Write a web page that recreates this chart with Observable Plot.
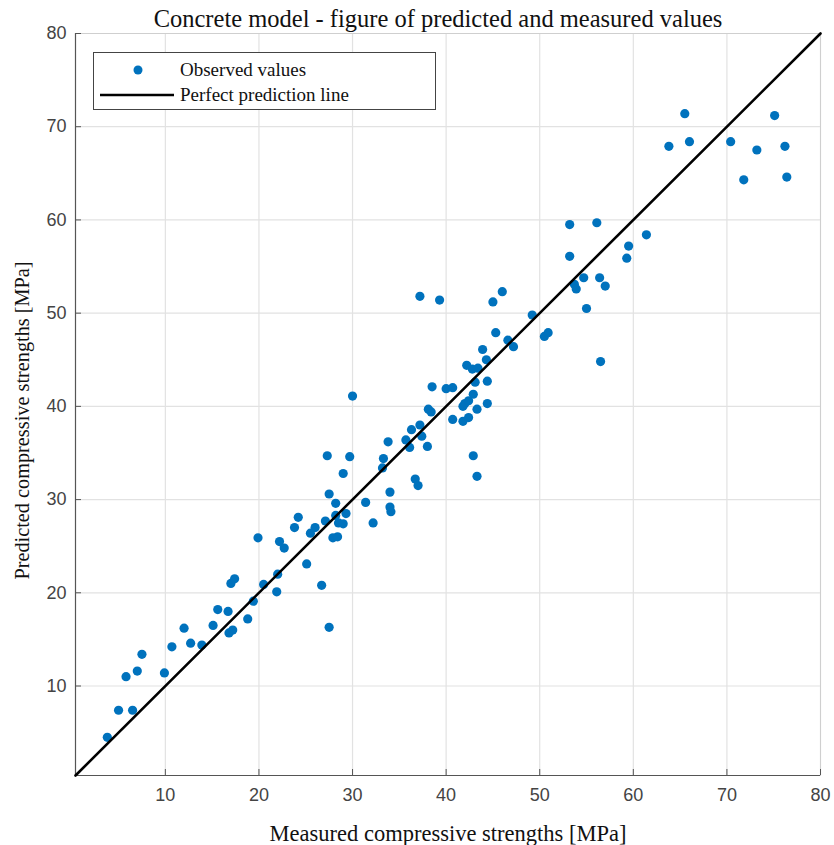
<!DOCTYPE html>
<html><head><meta charset="utf-8">
<script src="https://cdn.jsdelivr.net/npm/d3@7"></script>
<script src="https://cdn.jsdelivr.net/npm/@observablehq/plot@0.6"></script>
<style>
body{margin:0;background:#fff;}
#wrap{position:relative;width:834px;height:845px;}
#legend{position:absolute;left:93px;top:52px;width:341px;height:56px;border:1.3px solid #444;background:#fff;font-family:"Liberation Serif",serif;font-size:19px;color:#111;}
#legend .row{position:absolute;left:0;height:24px;line-height:24px;}
#legend .lab{position:absolute;left:86px;white-space:nowrap;}
</style></head><body><div id="wrap"><div id="legend">
<div class="row" style="top:5px"><svg width="80" height="24" style="position:absolute;left:0"><circle cx="44" cy="12" r="4.5" fill="#0072BD"/></svg><span class="lab">Observed values</span></div>
<div class="row" style="top:30px"><svg width="84" height="24" style="position:absolute;left:0"><line x1="6" x2="80" y1="12" y2="12" stroke="#000" stroke-width="2.6"/></svg><span class="lab">Perfect prediction line</span></div>
</div></div>
<script>
const measured = [3.8,5.0,6.5,5.8,7.0,7.5,9.9,10.7,12.0,12.7,13.9,15.1,15.6,16.7,16.8,17.2,17.0,17.4,18.8,19.4,19.9,20.5,21.9,22.0,22.2,22.7,23.8,24.2,25.1,25.5,26.0,26.7,27.5,27.1,27.3,27.5,28.2,27.9,28.4,28.2,28.5,29.0,29.3,29.0,29.7,30.0,31.4,32.2,33.2,33.3,33.8,34.0,34.0,34.1,35.7,36.1,36.3,36.7,37.0,37.2,37.4,38.0,38.1,38.4,38.5,37.2,39.3,40.0,40.7,40.7,41.8,42.4,41.8,42.0,42.4,42.9,43.1,43.3,44.4,44.4,42.9,43.3,42.2,42.8,43.4,43.9,44.3,45.0,46.0,45.3,46.6,47.2,49.2,50.5,50.9,53.2,53.2,53.7,53.9,54.7,55.0,56.1,56.4,57.0,56.5,59.3,59.5,61.4,63.8,65.5,66.0,70.4,71.8,73.2,75.1,76.2,76.4];
const predicted = [4.5,7.4,7.4,11.0,11.6,13.4,11.4,14.2,16.2,14.6,14.4,16.5,18.2,18.0,15.7,16.0,21.0,21.5,17.2,19.1,25.9,20.9,20.1,22.0,25.5,24.8,27.0,28.1,23.1,26.4,27.0,20.8,16.3,27.7,34.7,30.6,29.6,25.9,26.0,28.3,27.5,27.4,28.5,32.8,34.6,41.1,29.7,27.5,33.4,34.4,36.2,30.8,29.2,28.7,36.4,35.6,37.5,32.2,31.5,38.0,36.8,35.7,39.7,39.4,42.1,51.8,51.4,41.9,42.0,38.6,38.4,38.8,40.0,40.3,40.6,41.3,42.6,39.7,40.3,42.7,34.7,32.5,44.4,44.0,44.1,46.1,45.0,51.2,52.3,47.9,47.1,46.4,49.8,47.5,47.9,59.5,56.1,53.1,52.6,53.8,50.5,59.7,53.8,52.9,44.8,55.9,57.2,58.4,67.9,71.4,68.4,68.4,64.3,67.5,71.2,67.9,64.6];
const xTicks = [10,20,30,40,50,60,70,80];
const yTicks = [10,20,30,40,50,60,70,80];
const axisDomain = [0.4,80];
const perfectLine = [0.4,80];
const titleText = "Concrete model - figure of predicted and measured values";
const xLabel = "Measured compressive strengths [MPa]";
const yLabel = "Predicted compressive strengths [MPa]";

const points = measured.map((m,i)=>({m, p: predicted[i]}));
const lineData = perfectLine.map(v=>({m:v,p:v}));
const W=834,H=845,mL=75,mR=14,mT=33,mB=70;
const fw=W-mL-mR, fh=H-mT-mB;

const chart = Plot.plot({
  width:W, height:H, marginLeft:mL, marginRight:mR, marginTop:mT, marginBottom:mB,
  x:{domain:axisDomain}, y:{domain:axisDomain},
  style:{fontFamily:"Liberation Sans, Arial, sans-serif", background:"#fff", overflow:"visible"},
  marks:[
    Plot.gridX(xTicks,{stroke:"#e2e2e2",strokeOpacity:1,strokeWidth:1.2}),
    Plot.gridY(yTicks,{stroke:"#e2e2e2",strokeOpacity:1,strokeWidth:1.2}),
    Plot.frame({stroke:"#cfcfcf"}),
    Plot.ruleY([axisDomain[0]],{stroke:"#555",strokeWidth:1.2}),
    Plot.ruleX([axisDomain[0]],{stroke:"#555",strokeWidth:1.2}),
    Plot.tickX(xTicks,{x:d=>d,insetTop:fh-6,stroke:"#555"}),
    Plot.tickY(yTicks,{y:d=>d,insetRight:fw-6,stroke:"#555"}),
    Plot.axisX(xTicks,{tickSize:0,tickPadding:13,fontSize:18,fill:"#444",label:null}),
    Plot.axisY(yTicks,{tickSize:0,tickPadding:9,fontSize:18,fill:"#444",label:null}),
    Plot.dot(points,{x:"m",y:"p",r:4.6,fill:"#0072BD",stroke:"none"}),
    Plot.line(lineData,{x:"m",y:"p",stroke:"#000",strokeWidth:2.6}),
    Plot.text([titleText],{frameAnchor:"top",lineAnchor:"middle",dx:-10,dy:-14,fontSize:24.5,fontFamily:"Liberation Serif, serif",fill:"#111"}),
    Plot.text([xLabel],{frameAnchor:"bottom",lineAnchor:"middle",dy:58,fontSize:22.5,fontFamily:"Liberation Serif, serif",fill:"#111"}),
    Plot.text([yLabel],{frameAnchor:"left",textAnchor:"middle",lineAnchor:"middle",dx:-53,dy:16,rotate:-90,fontSize:20.3,fontFamily:"Liberation Serif, serif",fill:"#111"})
  ]
});
document.getElementById("wrap").prepend(chart);
</script></body></html>
